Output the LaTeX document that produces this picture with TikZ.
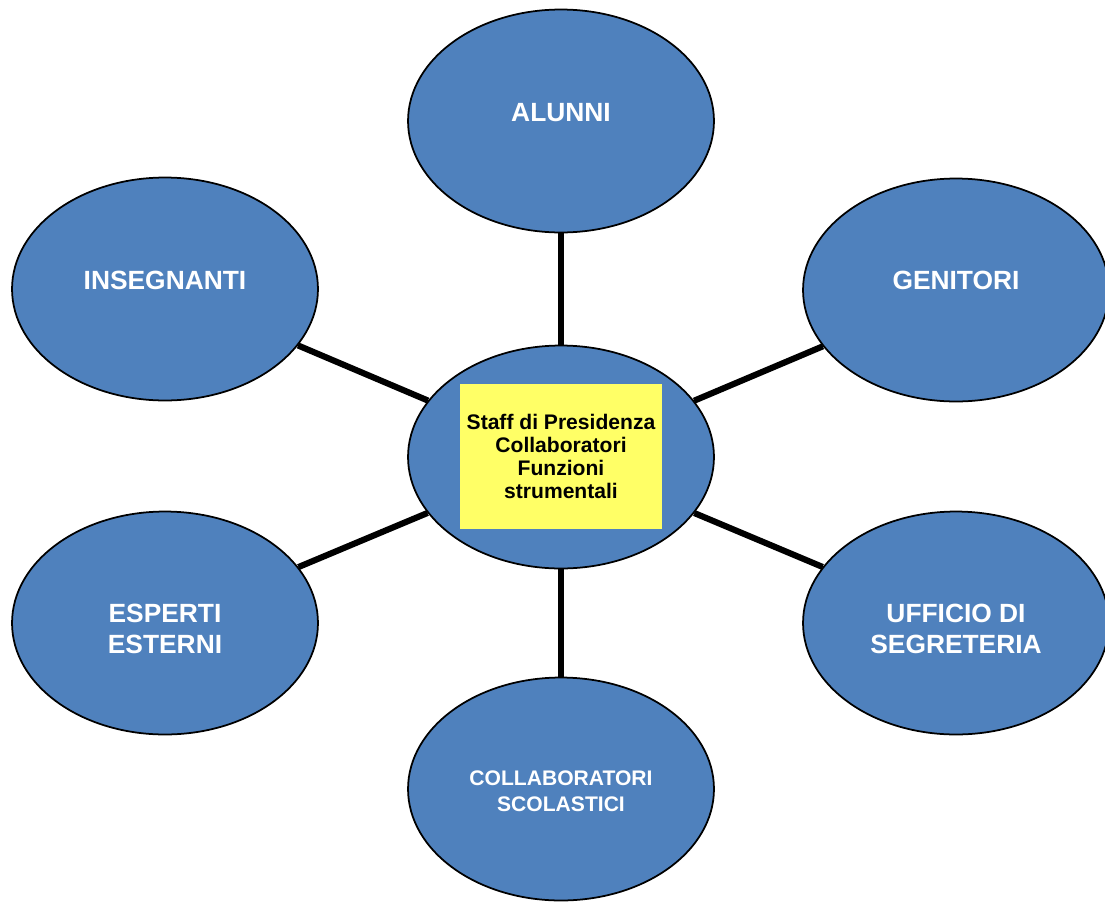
\documentclass[tikz,border=0pt]{standalone}
\usepackage{fontspec}
\setmainfont{Liberation Sans}
\usetikzlibrary{shapes.geometric}

\definecolor{bubbleblue}{RGB}{79,129,189}
\definecolor{staffyellow}{RGB}{255,255,102}

\begin{document}
\begin{tikzpicture}[x=0.02cm, y=-0.02cm,
    bubble/.style={ellipse, draw=black, line width=1pt, fill=bubbleblue,
        minimum width=6.12cm, minimum height=4.46cm, inner sep=0pt},
    biglbl/.style={text=white, align=center, inner sep=0pt,
        font=\bfseries\fontsize{15}{17.6}\selectfont},
    smalllbl/.style={text=white, align=center, inner sep=0pt,
        font=\bfseries\fontsize{12}{14.7}\selectfont},
    staffbox/.style={fill=staffyellow, draw=none, minimum width=4.04cm,
        minimum height=2.9cm, align=center, inner sep=0pt,
        font=\bfseries\fontsize{12}{13}\selectfont},
    link/.style={line width=3.5pt, black}]
    \useasboundingbox (0,0) rectangle (1105,903);

    % Bubbles round the staff
    \node[bubble] (alunni) at (561,121) {};
    \node[bubble] (insegnanti) at (165,289) {};
    \node[bubble] (genitori) at (956,290) {};
    \node[bubble] (staffbubble) at (561,457) {};
    \node[bubble] (esperti) at (165,623) {};
    \node[bubble] (ufficio) at (956,623) {};
    \node[bubble] (collab) at (561,789) {};

    % Links from the centre
    \draw[link] (staffbubble) -- (alunni);
    \draw[link] (staffbubble) -- (insegnanti);
    \draw[link] (staffbubble) -- (genitori);
    \draw[link] (staffbubble) -- (esperti);
    \draw[link] (staffbubble) -- (ufficio);
    \draw[link] (staffbubble) -- (collab);

    % Yellow box in the middle
    \node[staffbox] (staff) at (561,456.5) {Staff di Presidenza\\Collaboratori\\Funzioni\\strumentali};

    % Labels
    \node[biglbl] (alunniT) at (561,113) {ALUNNI};
    \node[biglbl] (insegnantiT) at (165,280) {INSEGNANTI};
    \node[biglbl] (genitoriT) at (956,280) {GENITORI};
    \node[biglbl] (espertiT) at (165,628.5) {ESPERTI\\ESTERNI};
    \node[biglbl] (ufficioT) at (956,628.5) {UFFICIO DI\\SEGRETERIA};
    \node[smalllbl] (collabT) at (561,791) {COLLABORATORI\\SCOLASTICI};
\end{tikzpicture}
\end{document}
